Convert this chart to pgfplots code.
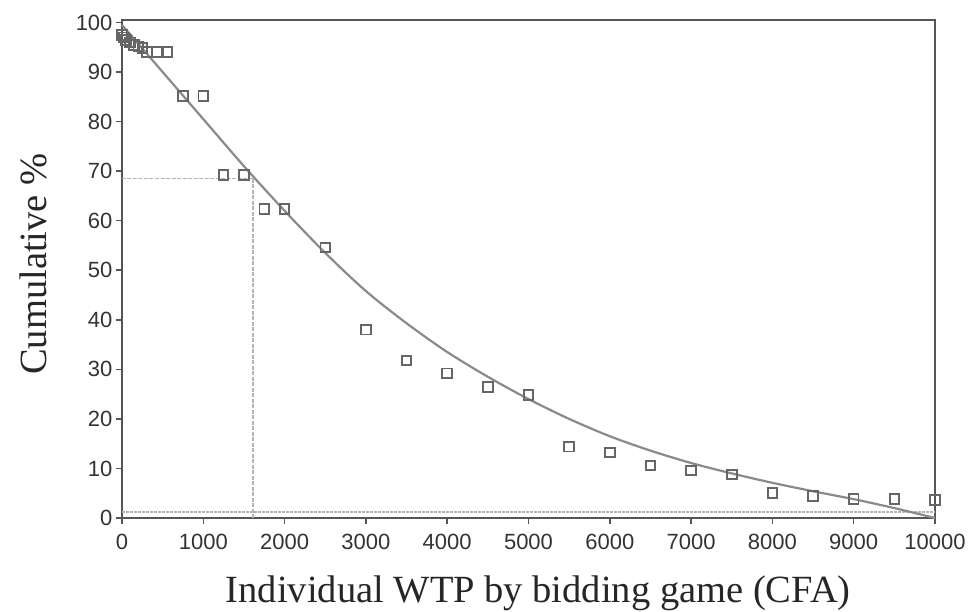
\documentclass[border=0pt]{standalone}
\usepackage{pgfplots}
\pgfplotsset{compat=1.18}
\usepackage{fontspec}
\setmainfont{Liberation Serif}
\newfontfamily\ticksans{Liberation Sans}
\definecolor{axgray}{HTML}{555555}
\definecolor{markgray}{HTML}{666666}
\definecolor{curvegray}{HTML}{8A8A8A}
\definecolor{refgray}{HTML}{B4B4B4}
\begin{document}
\begin{tikzpicture}
\begin{axis}[
  scale only axis,
  width=813pt, height=498pt,
  xmin=0, xmax=10000, ymin=0, ymax=100.5,
  xtick={0,1000,...,10000},
  ytick={0,10,...,100},
  scaled x ticks=false,
  /pgf/number format/1000 sep={},
  /pgf/number format/assume math mode=true,
  tick label style={font=\ticksans\fontsize{22}{24}\selectfont, text=black!80},
  xticklabel style={yshift=-7pt},
  tick align=outside,
  major tick length=6pt,
  xtick pos=bottom, ytick pos=left,
  tick style={axgray, line width=1.5pt},
  axis line style={axgray, line width=2.5pt},
  xlabel={Individual WTP by bidding game (CFA)},
  ylabel={Cumulative \%},
  label style={font=\fontsize{38.5}{40}\selectfont, text=black!85},
  xlabel style={at={(axis description cs:0.512,0)}, anchor=base, yshift=-84pt},
  ylabel style={at={(axis description cs:-0.0923,0.51)}, anchor=base},
  clip=false,
]
% light reference line near zero
\addplot[refgray, line width=2pt, dash pattern=on 3pt off 1pt] coordinates {(0,1.2) (10000,1.2)};
% cross-hair reference lines
\addplot[refgray, line width=1.5pt, dash pattern=on 4pt off 1.5pt] coordinates {(0,68.5) (1610,68.5)};
\addplot[refgray, line width=1.5pt, dash pattern=on 4pt off 1.5pt] coordinates {(1610,68.5) (1610,0)};
% fitted curve
\addplot[curvegray, line width=2.2pt, smooth] coordinates {
(0,99.5) (500,90) (1000,80.5) (1500,71) (2000,62) (2500,53.5) (3000,45.8)
(3500,39.3) (4000,33.5) (4500,28.5) (5000,24) (5500,20) (6000,16.5)
(6500,13.6) (7000,11.1) (7500,9) (8000,7.1) (8500,5.4) (9000,3.8) (9500,2) (10000,0)
};
% observed points
\addplot[only marks, mark=square, mark size=4.8pt, markgray, mark options={line width=1.9pt}] coordinates {
(0,97.5) (25,97) (50,96.5) (100,96) (150,95.5) (200,95.2) (250,94.8)
(310,94) (430,94) (560,94)
(750,85.2) (1000,85.2) (1250,69.2) (1500,69.2) (1750,62.4) (2000,62.4)
(2500,54.6) (3000,38) (3500,31.8) (4000,29.2) (4500,26.4) (5000,24.8)
(5500,14.4) (6000,13.2) (6500,10.6) (7000,9.6) (7500,8.8) (8000,5)
(8500,4.4) (9000,3.8) (9500,3.8) (10000,3.6)
};
\end{axis}
\pgfresetboundingbox
\path (current axis.south west) ++(-122pt,-93pt) coordinate (bl);
\path (current axis.north east) ++(38pt,20pt) coordinate (tr);
\path (bl) rectangle (tr);
\end{tikzpicture}
\end{document}
